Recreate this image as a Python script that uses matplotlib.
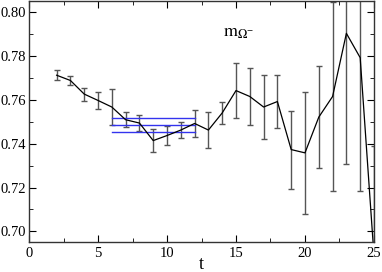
import numpy as np
import matplotlib
matplotlib.use("Agg")
import matplotlib.pyplot as plt
from matplotlib.ticker import MultipleLocator

t = [2, 3, 4, 5, 6, 7, 8, 9, 10, 11, 12, 13, 14, 15, 16, 17, 18, 19, 20, 21, 22, 23, 24, 25]
mass = [0.7712, 0.7688, 0.7626, 0.7597, 0.7567, 0.7509, 0.7494, 0.7414, 0.7437, 0.7462, 0.7492,
        0.7462, 0.7540, 0.7642, 0.7615, 0.7567, 0.7592, 0.7373, 0.7358, 0.7521, 0.7615, 0.7903,
        0.7792, 0.6890]
err = [0.0023, 0.0021, 0.0030, 0.0040, 0.0084, 0.0035, 0.0035, 0.0053, 0.0044, 0.0035, 0.0063,
       0.0083, 0.0049, 0.0125, 0.0130, 0.0147, 0.0121, 0.0178, 0.0279, 0.0231, 0.0432, 0.0598,
       0.0610, 0.0500]

fit_range = [6, 12]
fit_value = 0.7484
fit_err = 0.0031

plt.rcParams['font.family'] = ['Liberation Serif', 'DejaVu Serif']
plt.rcParams['mathtext.fontset'] = 'stix'

fig = plt.figure(figsize=(3.82, 2.72), dpi=100)
ax = fig.add_axes([0.076, 0.109, 0.903, 0.887])

ax.errorbar(t, mass, yerr=err, color='black', ecolor='#555555', elinewidth=1.0,
            capsize=2.5, capthick=1.0, linewidth=0.9)

for v in [fit_value - fit_err, fit_value, fit_value + fit_err]:
    ax.plot(fit_range, [v, v], color='#3333ee', linewidth=1.0)

ax.text(15.2, 0.7905, r'$\mathrm{m}_{\Omega^{-}}$', fontsize=13, ha='center', va='center')

ax.set_xlim(0, 25)
ax.set_ylim(0.695, 0.805)
ax.xaxis.set_major_locator(MultipleLocator(5))
ax.xaxis.set_minor_locator(MultipleLocator(2.5))
ax.yaxis.set_major_locator(MultipleLocator(0.02))
ax.yaxis.set_minor_locator(MultipleLocator(0.01))
ax.yaxis.set_major_formatter(matplotlib.ticker.FormatStrFormatter('%.2f'))
ax.tick_params(which='both', direction='in', top=True, right=True, labelsize=10.5)
ax.tick_params(axis='y', pad=2)
ax.tick_params(which='major', length=5)
ax.tick_params(which='minor', length=3)
ax.set_xlabel('t', fontsize=13, labelpad=-3)
for s in ax.spines.values():
    s.set_linewidth(1.0)
    s.set_color('#333333')

fig.savefig('out.png', dpi=100)
